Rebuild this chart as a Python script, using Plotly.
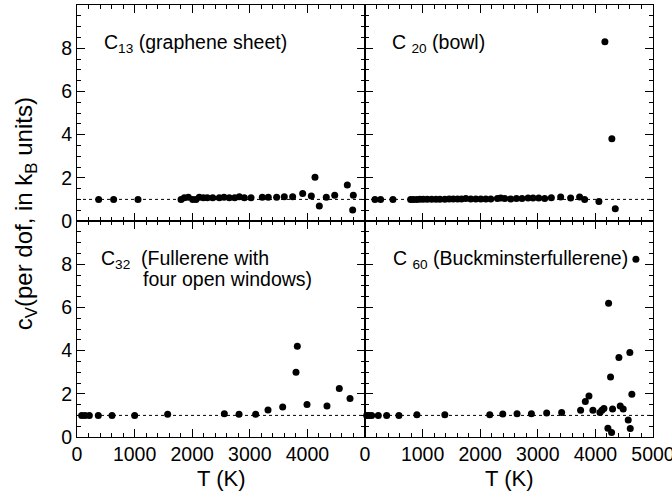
import plotly.graph_objects as go

# ---- data (T in K, cv per dof in kB units) ----
c13_T = [376, 636, 1059, 1806, 1863, 1933, 2009, 2066, 2123, 2193, 2262, 2356, 2471, 2552,
         2644, 2738, 2818, 2905, 3021, 3217, 3321, 3466, 3599, 3744, 3918, 4068, 4132, 4207,
         4328, 4474, 4693, 4797, 4786]
c13_cv = [1.0, 1.0, 1.0, 1.0, 1.08, 1.1, 0.99, 1.0, 1.1, 1.08, 1.08, 1.08, 1.08, 1.1,
          1.08, 1.08, 1.12, 1.08, 1.08, 1.1, 1.1, 1.1, 1.12, 1.12, 1.27, 1.16, 2.02, 0.69,
          1.1, 1.19, 1.67, 1.19, 0.51]

c20_T = [173, 271, 485, 792, 838, 896, 953, 1011, 1080, 1156, 1231, 1300, 1386, 1461, 1531,
         1606, 1675, 1750, 1837, 1924, 2010, 2097, 2184, 2299, 2357, 2426, 2530, 2629, 2726,
         2831, 2917, 3016, 3120, 3235, 3397, 3570, 3726, 3813, 4061, 4165, 4286, 4345]
c20_cv = [1.0, 1.0, 1.0, 1.0, 1.0, 1.0, 1.01, 1.01, 1.01, 1.01, 1.01, 1.01, 1.01, 1.02, 1.02,
          1.02, 1.02, 1.04, 1.02, 1.02, 1.02, 1.02, 1.02, 1.04, 1.06, 1.04, 1.02, 1.04, 1.04,
          1.06, 1.06, 1.06, 1.04, 1.08, 1.11, 1.06, 1.11, 1.0, 0.9, 8.3, 3.81, 0.57]

c32_T = [81, 139, 214, 370, 608, 1001, 1574, 2558, 2813, 3102, 3316, 3571, 3802, 3825,
         3993, 4340, 4554, 4740]
c32_cv = [1.0, 1.0, 1.0, 1.0, 1.0, 1.0, 1.05, 1.08, 1.05, 1.05, 1.25, 1.39, 3.0, 4.2,
          1.51, 1.44, 2.24, 1.78]

c60_T = [29, 69, 116, 231, 376, 589, 901, 1386, 2166, 2392, 2640, 2889, 3154, 3414, 3743,
         3825, 3888, 3957, 4079, 4113, 4148, 4229, 4263, 4298, 4217, 4281, 4408, 4431,
         4483, 4570, 4598, 4605, 4633, 4703]
c60_cv = [1.0, 1.0, 1.0, 1.0, 1.0, 1.0, 1.03, 1.03, 1.03, 1.06, 1.08, 1.08, 1.11, 1.14, 1.24,
          1.64, 1.9, 1.24, 1.14, 1.24, 1.32, 6.19, 2.78, 1.3, 0.41, 0.21, 3.68, 1.44,
          1.3, 0.79, 3.91, 0.39, 1.98, 8.23]

panel_labels = ["C<sub>13</sub> (graphene sheet)", "C <sub>20</sub> (bowl)",
                "C<sub>32</sub>  (Fullerene with", "C <sub>60</sub> (Buckminsterfullerene)"]
extra_label = "four open windows)"
x_ticks_left = [0, 1000, 2000, 3000, 4000]
x_ticks_right = [0, 1000, 2000, 3000, 4000, 5000]
y_ticks = [0, 2, 4, 6, 8]
x_title = "T (K)"
y_title = "c<sub>V</sub>(per dof, in k<sub>B</sub> units)"
ref_level = [1, 1]
ref_T = [0, 5000]

FONT = "Liberation Sans, Arial, Helvetica, sans-serif"

fig = go.Figure()

panels = [
    (c13_T, c13_cv, "x3", "y3"),
    (c20_T, c20_cv, "x4", "y4"),
    (c32_T, c32_cv, "x", "y"),
    (c60_T, c60_cv, "x2", "y2"),
]
for T, cv, xa, ya in panels:
    fig.add_trace(go.Scatter(x=ref_T, y=ref_level, mode="lines", xaxis=xa, yaxis=ya,
                             line=dict(color="black", width=1, dash="dot"),
                             showlegend=False, hoverinfo="skip"))
    fig.add_trace(go.Scatter(x=T, y=cv, mode="markers", xaxis=xa, yaxis=ya,
                             marker=dict(color="black", size=7),
                             cliponaxis=False, showlegend=False))

common_x = dict(range=[0, 5000], showline=True, linecolor="black", linewidth=1, mirror="allticks",
                ticks="inside", ticklen=8, tickcolor="black", tickwidth=1,
                minor=dict(dtick=200, ticks="inside", ticklen=4, tickcolor="black", tickwidth=1),
                showgrid=False, zeroline=False, automargin=False, ticklabeloverflow="allow",
                tickfont=dict(family=FONT, size=19.5, color="black"))
common_y = dict(range=[0, 10], showline=True, linecolor="black", linewidth=1, mirror="allticks",
                ticks="inside", ticklen=8, tickcolor="black", tickwidth=1,
                minor=dict(dtick=0.5, ticks="inside", ticklen=4, tickcolor="black", tickwidth=1),
                showgrid=False, zeroline=False, tickvals=y_ticks, automargin=False,
                ticklabeloverflow="allow",
                tickfont=dict(family=FONT, size=19.5, color="black"))

fig.update_layout(
    width=672, height=497,
    margin=dict(l=77, r=19, t=5, b=60, autoexpand=False),
    paper_bgcolor="white", plot_bgcolor="white",
    xaxis=dict(common_x, domain=[0, 0.5], anchor="y", tickvals=x_ticks_left),
    yaxis=dict(common_y, domain=[0, 0.5], anchor="x", showticklabels=True),
    xaxis2=dict(common_x, domain=[0.5, 1], anchor="y2", tickvals=x_ticks_right),
    yaxis2=dict(common_y, domain=[0, 0.5], anchor="x2", showticklabels=False),
    xaxis3=dict(common_x, domain=[0, 0.5], anchor="y3", tickvals=x_ticks_left, showticklabels=False),
    yaxis3=dict(common_y, domain=[0.5, 1], anchor="x3", showticklabels=True),
    xaxis4=dict(common_x, domain=[0.5, 1], anchor="y4", tickvals=x_ticks_right, showticklabels=False),
    yaxis4=dict(common_y, domain=[0.5, 1], anchor="x4", showticklabels=False),
)

ann_font = dict(family=FONT, size=19.5, color="black")
anns = [
    dict(text=panel_labels[0], xref="x3", yref="y3", x=430, y=8.2),
    dict(text=panel_labels[1], xref="x4", yref="y4", x=430, y=8.2),
    dict(text=panel_labels[2], xref="x", yref="y", x=390, y=8.2),
    dict(text=extra_label, xref="x", yref="y", x=1105, y=7.3),
    dict(text=panel_labels[3], xref="x2", yref="y2", x=450, y=8.2),
]
for a in anns:
    fig.add_annotation(a, xanchor="left", yanchor="middle", showarrow=False, font=ann_font)

title_font = dict(family=FONT, size=22, color="black")
fig.add_annotation(text=x_title, xref="paper", yref="paper", x=0.25, y=-0.097,
                   xanchor="center", yanchor="middle", showarrow=False, font=title_font)
fig.add_annotation(text=x_title, xref="paper", yref="paper", x=0.75, y=-0.097,
                   xanchor="center", yanchor="middle", showarrow=False, font=title_font)
fig.add_annotation(text=y_title, xref="paper", yref="paper", x=-0.09, y=0.516,
                   xanchor="center", yanchor="middle", textangle=-90, showarrow=False,
                   font=dict(family=FONT, size=24, color="black"))

fig.write_html("out.html", config={"displayModeBar": False},
               post_script="document.body.style.margin='0';document.body.style.overflow='hidden';")
